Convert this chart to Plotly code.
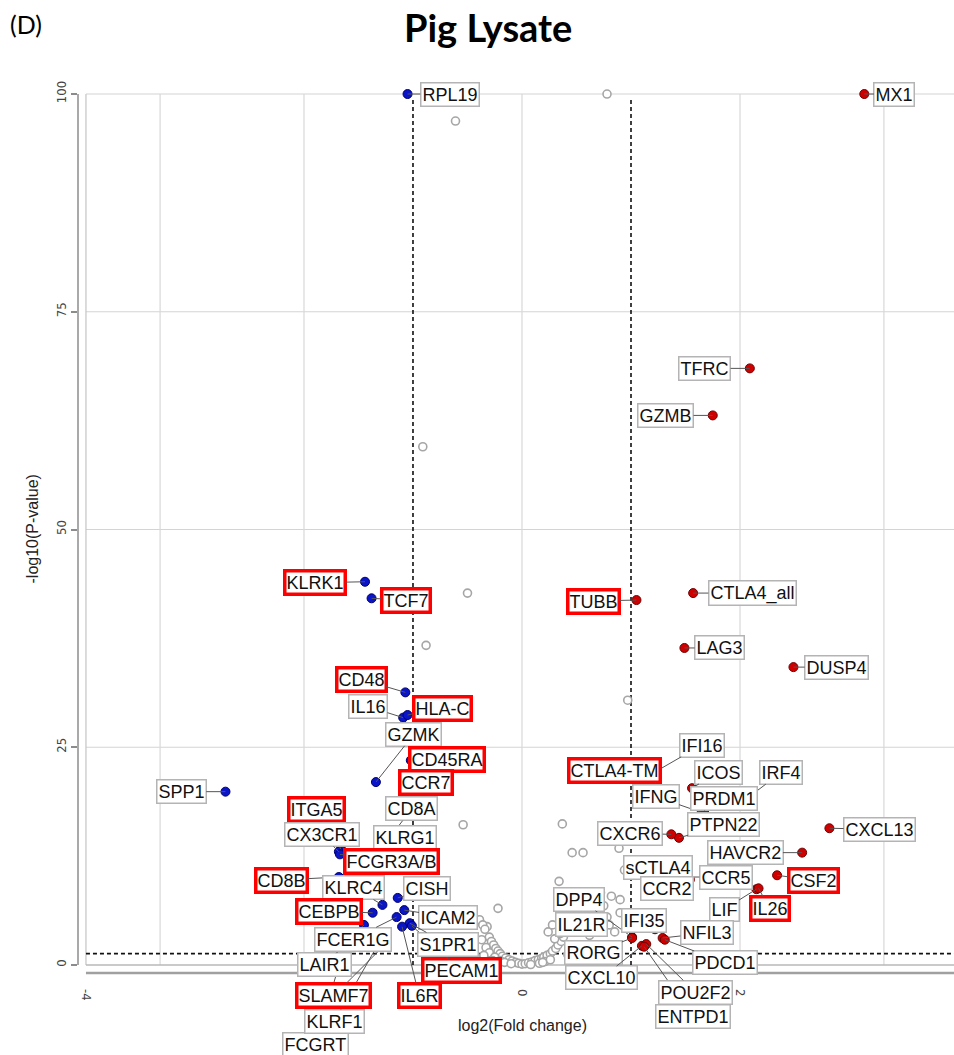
import plotly.graph_objects as go

# ---- labelled genes: log2 fold change and -log10(p) ----
genes = [
    "RPL19", "KLRK1", "TCF7", "CD48", "IL16", "HLA-C", "GZMK", "CD45RA", "CCR7",
    "SPP1", "ITGA5", "CX3CR1", "CD8A", "KLRG1", "FCGR3A/B", "CD8B", "KLRC4",
    "CISH", "CEBPB", "ICAM2", "FCER1G", "S1PR1", "IL6R", "LAIR1", "PECAM1",
    "SLAMF7", "KLRF1", "FCGRT",
    "MX1", "TFRC", "GZMB", "TUBB", "CTLA4_all", "LAG3", "DUSP4", "IFI16",
    "CTLA4-TM", "ICOS", "IRF4", "IFNG", "PRDM1", "PTPN22", "CXCR6", "CXCL13",
    "HAVCR2", "sCTLA4", "CCR5", "CSF2", "CCR2", "LIF", "IL26", "DPP4", "IL21R",
    "IFI35", "NFIL3", "RORG", "PDCD1", "CXCL10", "POU2F2", "ENTPD1",
]
log2fc = [
    -1.05, -1.44, -1.38, -1.07, -1.09, -1.05, -1.34, -1.02, -1.03,
    -2.72, -1.66, -1.68, -1.16, -1.20, -1.67, -1.68, -1.28,
    -1.14, -1.37, -1.08, -1.15, -1.03, -1.10, -1.45, -1.01,
    -1.26, -1.31, -1.63,
    3.14, 2.09, 1.75, 1.05, 1.57, 1.49, 2.49, 1.17,
    1.23, 1.56, 2.04, 1.65, 1.67, 1.44, 1.37, 2.82,
    2.57, 1.45, 1.51, 2.34, 1.54, 2.15, 2.17, 1.01, 0.71,
    1.22, 1.29, 1.01, 1.31, 1.10, 1.14, 1.12,
]
neglog10p = [
    100.0, 44.0, 42.1, 31.3, 28.4, 28.7, 21.0, 23.5, 20.7,
    19.9, 13.3, 13.0, 15.5, 12.1, 12.7, 10.1, 6.9,
    7.7, 6.0, 6.3, 5.5, 4.8, 4.4, 4.6, 4.5,
    2.3, 2.6, 1.95,
    100.0, 68.5, 63.1, 41.9, 42.7, 36.4, 34.2, 21.8,
    20.9, 20.3, 18.9, 17.5, 17.7, 14.6, 15.0, 15.7,
    12.9, 10.7, 10.1, 10.3, 9.8, 8.7, 8.8, 3.2, 4.0,
    4.1, 3.1, 3.1, 2.9, 2.2, 2.4, 2.1,
]
highlighted = {
    "KLRK1", "TCF7", "CD48", "HLA-C", "CD45RA", "CCR7", "ITGA5", "FCGR3A/B",
    "CD8B", "CEBPB", "PECAM1", "SLAMF7", "IL6R", "TUBB", "CTLA4-TM", "CSF2", "IL26",
}

# ---- remaining (unlabelled) genes ----
other_log2fc = [
    0.78, -0.61, -0.91, -0.50, -0.88, 0.97, -0.54, 0.37, 0.46, 0.56, 0.89,
    0.34, 0.94, -0.22, 0.90, -0.32,
    -0.39, -0.36, -0.34, -0.30, -0.37, -0.28, -0.26, -0.33, -0.24, -0.22,
    -0.30, -0.20, -0.18, -0.25, -0.15, -0.12, -0.20, -0.09, -0.06, -0.03,
    0.00, 0.03, 0.06, 0.09, 0.12, 0.15, 0.18, 0.20, 0.23, 0.26, 0.28, 0.31,
    0.33, 0.36, 0.30, 0.38, 0.35, 0.40, 0.45, 0.50, 0.55, 0.60, 0.65, 0.70,
    0.75, 0.80, 0.85, 0.62, 0.90, 0.45, 0.55, 0.65, 0.72, 0.78, 0.82, 0.68,
    0.50, 0.24, 0.28, -0.35, -0.27, -0.16, -0.10, 0.08, 0.16, 0.21, 0.42,
    -0.42, -0.31, 0.26, 0.19,
]
other_neglog10p = [
    100.0, 96.9, 59.5, 42.7, 36.7, 30.4, 16.1, 16.2, 12.9, 12.9, 13.4,
    9.6, 10.9, 6.5, 7.5, 4.4,
    5.2, 4.6, 4.1, 3.2, 2.9, 2.7, 2.3, 2.0, 1.9, 1.6,
    1.4, 1.3, 1.0, 0.9, 0.8, 0.6, 0.5, 0.45, 0.3, 0.2,
    0.1, 0.15, 0.25, 0.35, 0.5, 0.6, 0.75, 0.9, 1.1, 1.3, 1.6, 1.9,
    2.3, 2.7, 3.0, 3.2, 3.6, 4.0, 4.5, 5.0, 5.6, 6.2, 4.2, 5.1,
    6.8, 4.6, 3.8, 3.4, 6.0, 7.2, 8.0, 7.0, 8.3, 5.5, 7.9, 6.0,
    6.5, 3.8, 4.6, 1.1, 0.5, 0.3, 0.15, 0.05, 0.2, 0.4, 1.2,
    0.7, 0.35, 0.6, 0.3,
]

FC_CUT = 1.0          # |log2 fold change| threshold
P_CUT = 1.3           # -log10(0.05)
grid_x = [-3.32, -2, 0, 2, 3.32]
grid_y = [25, 50, 75, 100]

# label box centre offsets from each point, in pixels (dx, dy; +dy is down)
label_offset = {
    "RPL19": (42, 0), "KLRK1": (-50, 1), "TCF7": (34, 2), "CD48": (-44, -13),
    "IL16": (-35, -11), "HLA-C": (35, -7), "GZMK": (38, -48), "CD45RA": (36, -1),
    "CCR7": (16, -2), "SPP1": (-44, 0), "ITGA5": (-25, -40), "CX3CR1": (-17, -17),
    "CD8A": (16, -21), "KLRG1": (14, -22), "FCGR3A/B": (52, 7), "CD8B": (-57, 3),
    "KLRC4": (-29, -17), "CISH": (29, -9), "CEBPB": (-44, -1), "ICAM2": (44, 7),
    "FCER1G": (-44, 22), "S1PR1": (38, 21), "IL6R": (17, 69), "LAIR1": (-39, 40),
    "PECAM1": (50, 45), "SLAMF7": (-51, 51), "KLRF1": (-45, 79), "FCGRT": (-29, 96),
    "MX1": (30, 0), "TFRC": (-45, 0), "GZMB": (-47, 0), "TUBB": (-43, 1),
    "CTLA4_all": (59, 0), "LAG3": (35, 0), "DUSP4": (43, 0), "IFI16": (52, -30),
    "CTLA4-TM": (-42, -12), "ICOS": (26, -16), "IRF4": (37, -28), "IFNG": (-46, -16),
    "PRDM1": (20, -12), "PTPN22": (45, -13), "CXCR6": (-41, -1), "CXCL13": (50, 1),
    "HAVCR2": (-57, 0), "sCTLA4": (-22, -4), "CCR5": (39, 0), "CSF2": (36, 5),
    "CCR2": (-23, 9), "LIF": (-32, 20), "IL26": (11, 20), "DPP4": (-53, -38),
    "IL21R": (-18, -6), "IFI35": (-11, -9), "NFIL3": (44, -5), "RORG": (-39, 15),
    "PDCD1": (60, 23), "CXCL10": (-40, 32), "POU2F2": (49, 48), "ENTPD1": (49, 70),
}
# long connectors go first so that nearby boxes sit on top of them
draw_first = ["ENTPD1", "FCGRT", "KLRF1", "SLAMF7", "IL6R", "PECAM1", "LAIR1", "GZMK",
              "DPP4", "IFI16"]

BLUE, BLUE_EDGE = "#0a14c8", "#00006e"
RED, RED_EDGE = "#d00000", "#6e0000"

up_x, up_y, dn_x, dn_y, ns_x, ns_y = [], [], [], [], [], []
for fc, p in zip(log2fc, neglog10p):
    if p > P_CUT and fc >= FC_CUT:
        up_x.append(fc); up_y.append(p)
    elif p > P_CUT and fc <= -FC_CUT:
        dn_x.append(fc); dn_y.append(p)
    else:
        ns_x.append(fc); ns_y.append(p)

fig = go.Figure()
fig.add_trace(go.Scatter(
    x=other_log2fc + ns_x, y=other_neglog10p + ns_y, mode="markers",
    marker=dict(size=8, color="white", line=dict(color="#a6a6a6", width=1.6)),
    hoverinfo="skip", showlegend=False, cliponaxis=False))
fig.add_trace(go.Scatter(
    x=dn_x, y=dn_y, mode="markers",
    marker=dict(size=9, color=BLUE, line=dict(color=BLUE_EDGE, width=1)),
    showlegend=False, cliponaxis=False))
fig.add_trace(go.Scatter(
    x=up_x, y=up_y, mode="markers",
    marker=dict(size=9, color=RED, line=dict(color=RED_EDGE, width=1)),
    showlegend=False, cliponaxis=False))

shapes = []
# panel grid
for gy in grid_y:
    shapes.append(dict(type="line", xref="x", yref="y", x0=-4, x1=4, y0=gy, y1=gy,
                       line=dict(color="#d4d4d4", width=1.2), layer="below"))
for gx in grid_x:
    shapes.append(dict(type="line", xref="x", yref="y", x0=gx, x1=gx, y0=0, y1=100,
                       line=dict(color="#d8d8d8", width=1.2), layer="below"))
# panel frame (left edge and baseline)
shapes.append(dict(type="line", xref="x", yref="y", x0=-4, x1=-4, y0=0, y1=100,
                   line=dict(color="#c4c4c4", width=1.2), layer="below"))
shapes.append(dict(type="line", xref="x", yref="y", x0=-4, x1=4, y0=0, y1=0,
                   line=dict(color="#b8b8b8", width=1.5), layer="below"))
# axis lines
shapes.append(dict(type="line", xref="paper", yref="y", x0=0, x1=0, y0=0, y1=100,
                   line=dict(color="#8c8c8c", width=1.5)))
shapes.append(dict(type="line", xref="x", yref="paper", x0=-4, x1=4, y0=0, y1=0,
                   line=dict(color="#a0a0a0", width=2.5)))
# significance thresholds
dash = dict(color="#111111", width=1.6, dash="4px,3px")
for fx in (-FC_CUT, FC_CUT):
    shapes.append(dict(type="line", xref="x", yref="y", x0=fx, x1=fx, y0=0, y1=99.5,
                       line=dash, layer="below"))
shapes.append(dict(type="line", xref="x", yref="y", x0=-4, x1=4, y0=P_CUT, y1=P_CUT,
                   line=dash, layer="below"))

annotations = []
order = draw_first + [g for g in genes if g not in draw_first]
for g in order:
    i = genes.index(g)
    dx, dy = label_offset[g]
    boxed = g in highlighted
    annotations.append(dict(
        x=log2fc[i], y=neglog10p[i], xref="x", yref="y", text=g,
        showarrow=True, arrowhead=0, arrowwidth=1, arrowcolor="#555555",
        ax=dx, ay=dy, standoff=0,
        font=dict(family="Liberation Sans, Arial, sans-serif", size=18, color="#111111"),
        bgcolor="white",
        bordercolor="#ff0000" if boxed else "#b4b4b4",
        borderwidth=3.5 if boxed else 1.5,
        borderpad=0 if boxed else 1,
    ))

# titles
annotations.append(dict(
    text="<b>Pig Lysate</b>", xref="paper", yref="paper",
    x=(488 - 78) / 876, y=(973 - 27) / 893, xanchor="center", yanchor="middle",
    showarrow=False, font=dict(family="Lato, sans-serif", size=38, color="#000000")))
annotations.append(dict(
    text="(D)", xref="paper", yref="paper", xanchor="left", yanchor="middle",
    x=(8 - 78) / 876, y=(973 - 24) / 893, showarrow=False,
    font=dict(family="Lato, sans-serif", size=25, color="#000000")))
annotations.append(dict(
    text="log2(Fold change)", xref="x", yref="paper", x=0, y=(973 - 1025) / 893,
    yanchor="middle", showarrow=False,
    font=dict(family="Liberation Sans, Arial, sans-serif", size=16, color="#222222")))
annotations.append(dict(
    text="-log10(P-value)", xref="paper", yref="y", x=(32 - 78) / 876, y=50,
    xanchor="center", yanchor="middle", textangle=-90, showarrow=False,
    font=dict(family="Liberation Sans, Arial, sans-serif", size=16, color="#222222")))

fig.update_layout(
    width=954, height=1055,
    margin=dict(l=78, r=0, t=80, b=82),
    paper_bgcolor="white", plot_bgcolor="white",
    shapes=shapes, annotations=annotations,
    xaxis=dict(range=[-4.073, 3.963], showgrid=False, zeroline=False, showline=False,
               tickvals=[-4, -2, 0, 2, 4], ticktext=["-4", "-2", "0", "2", "4"],
               tickangle=90, ticks="", ticklabelstandoff=15,
               tickfont=dict(family="Liberation Sans Narrow, DejaVu Sans Condensed, sans-serif",
                             size=13, color="#444444")),
    yaxis=dict(range=[-0.92, 101.61], showgrid=False, zeroline=False, showline=False,
               tickvals=[0, 25, 50, 75, 100], tickangle=-90, ticks="outside", ticklen=6,
               tickcolor="#8c8c8c", tickwidth=1.5,
               tickfont=dict(family="Liberation Sans Narrow, DejaVu Sans Condensed, sans-serif",
                             size=13, color="#444444")),
)

fig.write_html("out.html")
